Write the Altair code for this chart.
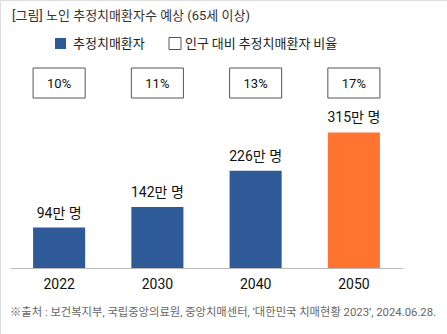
import altair as alt
import pandas as pd

years = ["2022", "2030", "2040", "2050"]
patients = [94, 142, 226, 315]
patient_labels = ["94만 명", "142만 명", "226만 명", "315만 명"]
ratios = ["10%", "11%", "13%", "17%"]
bar_colors = ["#2e5b98", "#2e5b98", "#2e5b98", "#ff7430"]

title_text = "[그림] 노인 추정치매환자수 예상 (65세 이상)"
legend_labels = ["추정치매환자", "인구 대비 추정치매환자 비율"]
source_text = "※출처 : 보건복지부, 국립중앙의료원, 중앙치매센터, ‘대한민국 치매현황 2023’, 2024.06.28."

FONT = "Roboto, Noto Sans CJK KR"
KFONT = "Noto Sans CJK KR"

df = pd.DataFrame({"year": years, "value": patients, "label": patient_labels, "ratio": ratios})

xscale = alt.Scale(domain=years, range=[10, 403], paddingInner=0.47, paddingOuter=0.235)
yscale = alt.Scale(domain=[0, 623], range=[268, 0])

base = alt.Chart(df)

bars = base.mark_bar().encode(
    x=alt.X("year:N", scale=xscale, sort=years,
            axis=alt.Axis(title=None, orient="bottom", offset=-66, ticks=False,
                          domainColor="#bbbbbb", domainWidth=1, labelAngle=0,
                          labelFont="Roboto", labelFontSize=14, labelFontWeight="normal",
                          labelColor="#111111", labelPadding=9)),
    y=alt.Y("value:Q", scale=yscale, axis=None),
    color=alt.Color("year:N", scale=alt.Scale(domain=years, range=bar_colors), legend=None),
)

bar_text = base.mark_text(baseline="bottom", dy=-7, font=FONT, fontSize=14, color="#111111").encode(
    x=alt.X("year:N", scale=xscale, sort=years),
    y=alt.Y("value:Q", scale=yscale),
    text="label:N",
)

boxes = base.mark_rect(fill="white", stroke="#555555", strokeWidth=1).encode(
    x=alt.X("year:N", scale=xscale, sort=years),
    y=alt.value(68),
    y2=alt.value(98),
)

box_text = base.mark_text(font="Roboto", fontSize=13, color="#111111", baseline="middle").encode(
    x=alt.X("year:N", scale=xscale, sort=years),
    y=alt.value(84),
    text="ratio:N",
)

one = alt.Chart(pd.DataFrame({"t": [title_text], "s": [source_text],
                              "l1": [legend_labels[0]], "l2": [legend_labels[1]]}))

title = one.mark_text(align="left", baseline="middle", font=FONT, fontSize=13, color="#333333").encode(
    x=alt.value(12), y=alt.value(16), text="t:N")

source = one.mark_text(align="left", baseline="middle", font=FONT, fontSize=11.3, color="#666666").encode(
    x=alt.value(10), y=alt.value(313), text="s:N")

leg_sq1 = one.mark_square(size=121, filled=True, color="#2e5b98", opacity=1).encode(
    x=alt.value(60.5), y=alt.value(43.5))
leg_sq2 = one.mark_square(size=144, filled=True, fill="white", stroke="#555555", strokeWidth=1, opacity=1).encode(
    x=alt.value(175), y=alt.value(43.5))
leg_t1 = one.mark_text(align="left", baseline="middle", font=KFONT, fontSize=13, color="#222222").encode(
    x=alt.value(73), y=alt.value(43.5), text="l1:N")
leg_t2 = one.mark_text(align="left", baseline="middle", font=KFONT, fontSize=13, color="#222222").encode(
    x=alt.value(185), y=alt.value(43.5), text="l2:N")

chart = alt.layer(bars, bar_text, boxes, box_text, title, source, leg_sq1, leg_sq2, leg_t1, leg_t2).properties(
    width=447, height=334,
    autosize=alt.AutoSizeParams(type="none"),
    padding=0,
).configure_view(stroke=None).configure(background="white")

chart.save("out.html", embed_options={"renderer": "svg", "actions": False})
